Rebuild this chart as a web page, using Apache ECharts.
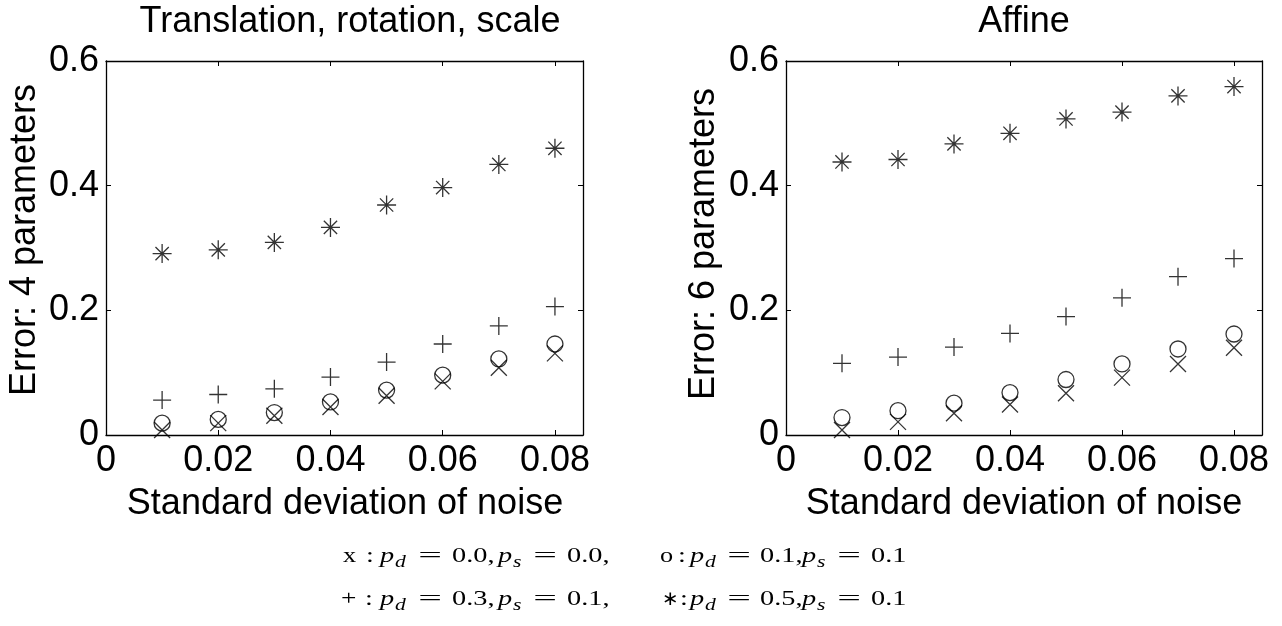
<!DOCTYPE html>
<html>
<head>
<meta charset="utf-8">
<script src="https://cdn.jsdelivr.net/npm/echarts@6/dist/echarts.min.js"></script>
<style>
html,body{margin:0;padding:0;background:#fff;}
#chart{width:1282px;height:626px;}
</style>
</head>
<body>
<div id="chart"></div>
<script>
// ---- data ----
const noiseStd = [0.01, 0.02, 0.03, 0.04, 0.05, 0.06, 0.07, 0.08];

// Left panel: Translation, rotation, scale (4 parameters)
const simX    = [0.008, 0.019, 0.031, 0.045, 0.063, 0.086, 0.108, 0.131];
const simO    = [0.019, 0.025, 0.036, 0.053, 0.072, 0.096, 0.122, 0.146];
const simPlus = [0.056, 0.065, 0.074, 0.093, 0.117, 0.146, 0.175, 0.206];
const simStar = [0.291, 0.297, 0.309, 0.333, 0.369, 0.397, 0.434, 0.460];

// Right panel: Affine (6 parameters)
const affX    = [0.008, 0.021, 0.035, 0.049, 0.067, 0.092, 0.114, 0.140];
const affO    = [0.028, 0.039, 0.051, 0.068, 0.089, 0.114, 0.138, 0.162];
const affPlus = [0.115, 0.125, 0.141, 0.163, 0.190, 0.220, 0.254, 0.283];
const affStar = [0.438, 0.442, 0.467, 0.484, 0.507, 0.518, 0.544, 0.559];

const xTickLabels = ['0', '0.02', '0.04', '0.06', '0.08'];
const yTickLabels = ['0', '0.2', '0.4', '0.6'];
const panelTitles = ['Translation, rotation, scale', 'Affine'];
const yNames = ['Error: 4 parameters', 'Error: 6 parameters'];
const xName = 'Standard deviation of noise';

// legend: marker glyph, p_d value, p_s value, trailing text
const legendMarks = ['x', 'o', '+', '\u2217'];
const legendPd = ['0.0', '0.1', '0.3', '0.5'];
const legendPs = ['0.0', '0.1', '0.1', '0.1'];
const legendTrail = [',', '', ',', ''];

// ---- styling / layout ----
const SANS = "'Liberation Sans', Arial, sans-serif";
const SERIF = "'Liberation Serif', 'DejaVu Serif', serif";
const FS = 36;
const X_STEP = 0.02, Y_STEP = 0.2;

const symX    = 'path://M0 0 L10 10 M10 0 L0 10';
const symPlus = 'path://M0 5 L10 5 M5 0 L5 10';
const symStar = 'path://M0 10 L20 10 M10 0 L10 20 M3 3 L17 17 M17 3 L3 17';

const grids = [
  {left: 106, top: 61, width: 477, height: 374},
  {left: 786, top: 61, width: 476, height: 374}
];

function xLabel(v) {
  const i = Math.round(v / X_STEP);
  if (Math.abs(v - i * X_STEP) < 1e-9 && i < xTickLabels.length) return xTickLabels[i];
  return '';
}
function yLabel(v) {
  const i = Math.round(v / Y_STEP);
  if (Math.abs(v - i * Y_STEP) < 1e-9 && i < yTickLabels.length) return yTickLabels[i];
  return '';
}

const xAxes = [], yAxes = [];
grids.forEach((g, gi) => {
  ['bottom', 'top'].forEach(pos => {
    xAxes.push({
      type: 'value', gridIndex: gi, position: pos, min: 0, max: 0.085, interval: X_STEP,
      axisLine: {show: true, onZero: false, lineStyle: {color: '#000', width: 1.3}},
      axisTick: {show: true, inside: true, length: 5, lineStyle: {color: '#000', width: 1}},
      axisLabel: {show: pos === 'bottom', formatter: xLabel, showMaxLabel: false, margin: 8,
                  color: '#000', fontFamily: SANS, fontSize: FS},
      splitLine: {show: false}
    });
  });
  ['left', 'right'].forEach(pos => {
    yAxes.push({
      type: 'value', gridIndex: gi, position: pos, min: 0, max: 0.6, interval: Y_STEP,
      axisLine: {show: true, onZero: false, lineStyle: {color: '#000', width: 1.3}},
      axisTick: {show: true, inside: true, length: 5, lineStyle: {color: '#000', width: 1}},
      axisLabel: {show: pos === 'left', formatter: yLabel, margin: 7,
                  color: '#000', fontFamily: SANS, fontSize: FS},
      splitLine: {show: false}
    });
  });
});

function pts(arr) { return noiseStd.map((x, i) => [x, arr[i]]); }
function mk(name, data, symbol, size, gi) {
  return {
    name: name, type: 'scatter', xAxisIndex: gi * 2, yAxisIndex: gi * 2,
    data: pts(data), symbol: symbol, symbolSize: size, clip: false,
    itemStyle: {color: 'transparent', borderColor: '#000', borderWidth: 1.3},
    emphasis: {disabled: true}
  };
}

const series = [
  mk('x', simX, symX, 16, 0), mk('o', simO, 'circle', 16, 0),
  mk('+', simPlus, symPlus, 18, 0), mk('*', simStar, symStar, 19, 0),
  mk('x', affX, symX, 16, 1), mk('o', affO, 'circle', 16, 1),
  mk('+', affPlus, symPlus, 18, 1), mk('*', affStar, symStar, 19, 1)
];

const textStyle = (extra) => Object.assign({fill: '#000', fontFamily: SANS, fontSize: FS}, extra);

const graphic = [
  {type: 'text', x: 350, y: 22, style: textStyle({text: panelTitles[0], align: 'center', verticalAlign: 'middle'})},
  {type: 'text', x: 1024, y: 22, style: textStyle({text: panelTitles[1], align: 'center', verticalAlign: 'middle'})},
  {type: 'text', x: 345, y: 504, style: textStyle({text: xName, align: 'center', verticalAlign: 'middle'})},
  {type: 'text', x: 1024, y: 504, style: textStyle({text: xName, align: 'center', verticalAlign: 'middle'})},
  {type: 'text', x: 25.5, y: 240, rotation: Math.PI / 2, style: textStyle({text: yNames[0], align: 'center', verticalAlign: 'middle'})},
  {type: 'text', x: 704, y: 244, rotation: Math.PI / 2, style: textStyle({text: yNames[1], align: 'center', verticalAlign: 'middle'})}
];

// ---- legend (TeX-like math text laid out piece by piece) ----
const LFS = 21, LSUB = 16, LSX = 1.35;
// offsets (px) relative to the first italic p of each entry
const colOffsets = [
  {d: 15, eq1: 50, v1: 72, p2: 118, s: 133, eq2: 165, v2: 187},
  {d: 15, eq1: 49, v1: 70, p2: 112, s: 127, eq2: 159, v2: 181}
];
const legendLayout = [
  {col: 0, mark: 343, colon: 370, p: 380, y: 556},
  {col: 1, mark: 660, colon: 682, p: 690, y: 556},
  {col: 0, mark: 341, colon: 369, p: 380, y: 599.5},
  {col: 1, mark: 662, colon: 684, p: 690, y: 599.5}
];
function piece(text, x, y, opt) {
  opt = opt || {};
  return {
    type: 'text', x: x, y: y, scaleX: opt.sx || LSX, silent: true,
    style: {
      text: text, fill: '#000', fontFamily: opt.family || SERIF,
      fontSize: opt.size || LFS, fontStyle: opt.italic ? 'italic' : 'normal',
      align: opt.align || 'left', verticalAlign: 'middle'
    }
  };
}
const markOpts = [
  {sx: 1.25}, {sx: 1.25}, {sx: 1.3},
  {family: "'DejaVu Sans', sans-serif", size: 20, sx: 1.0}
];
legendLayout.forEach((L, k) => {
  const y = L.y, ys = y + 6.7, p = L.p, o = colOffsets[L.col];
  graphic.push(piece(legendMarks[k], L.mark, y, markOpts[k]));
  graphic.push(piece(':', L.colon, y, {align: 'center'}));
  graphic.push(piece('p', p, y, {italic: true}));
  graphic.push(piece('d', p + o.d, ys, {italic: true, size: LSUB}));
  graphic.push(piece('=', p + o.eq1, y, {align: 'center', sx: 2.0}));
  graphic.push(piece(legendPd[k] + ',', p + o.v1, y));
  graphic.push(piece('p', p + o.p2, y, {italic: true}));
  graphic.push(piece('s', p + o.s, ys, {italic: true, size: LSUB}));
  graphic.push(piece('=', p + o.eq2, y, {align: 'center', sx: 2.0}));
  graphic.push(piece(legendPs[k] + legendTrail[k], p + o.v2, y));
});

const chart = echarts.init(document.getElementById('chart'), null, {renderer: 'canvas'});
chart.setOption({
  animation: false,
  backgroundColor: '#fff',
  grid: grids.map(g => Object.assign({show: false, containLabel: false}, g)),
  xAxis: xAxes,
  yAxis: yAxes,
  series: series,
  graphic: graphic
});
</script>
</body>
</html>
